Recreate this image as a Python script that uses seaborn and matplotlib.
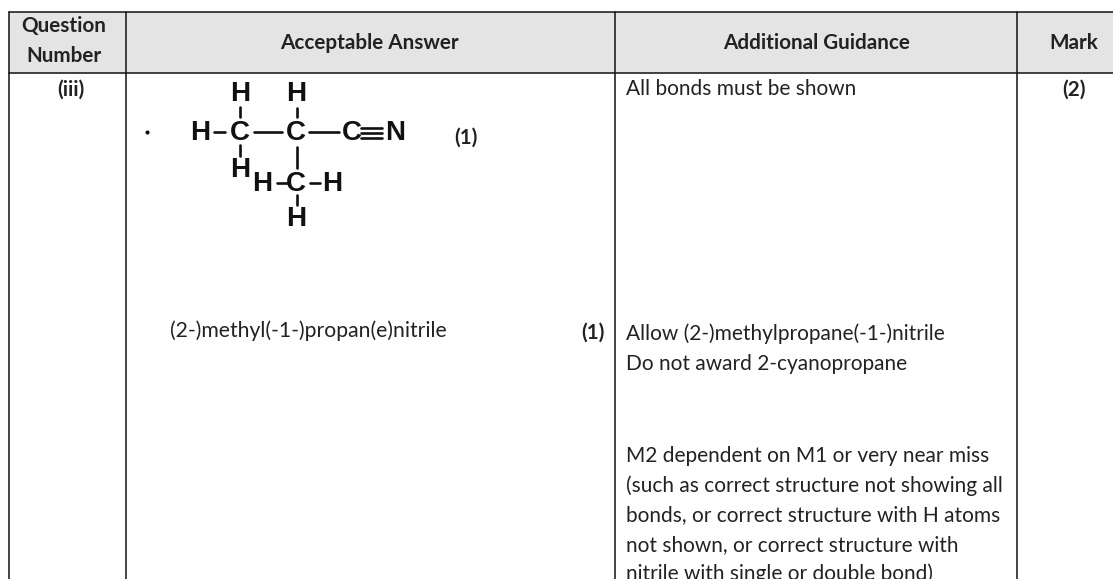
import pandas as pd
import matplotlib
matplotlib.use("Agg")
import matplotlib.pyplot as plt
import seaborn as sns

# Table text
header_labels = ["Question", "Number", "Acceptable Answer", "Additional Guidance", "Mark"]
bold_cells = ["(iii)", "(1)", "(1)", "(2)"]
answer_text = ["(2-)methyl(-1-)propan(e)nitrile"]
guidance_lines = [
    "All bonds must be shown",
    "Allow (2-)methylpropane(-1-)nitrile",
    "Do not award 2-cyanopropane",
    "M2 dependent on M1 or very near miss",
    "(such as correct structure not showing all",
    "bonds, or correct structure with H atoms",
    "not shown, or correct structure with",
    "nitrile with single or double bond)",
]
atom_labels = ["H", "H", "H", "C", "C", "C", "N", "H", "H", "C", "H", "H"]

# Where things go, in pixels of the 1113x579 page
header_xy = [(64, 26), (64, 56), (369, 43), (817, 43), (1074, 43)]
bold_xy = [(71, 90), (466, 138), (593, 333), (1074, 90)]
answer_xy = [(170, 331)]
guidance_xy = [(626, 89), (626, 334), (626, 364), (626, 456), (626, 486), (626, 515), (626, 545), (626, 574)]
atom_xy = [(240, 94), (296, 94), (200, 133), (240, 133), (296, 133), (352, 133), (395, 133),
           (240, 170), (262, 184), (296, 184), (332, 184), (296, 219)]

rule_x = [[9, 1113], [9, 1113], [9, 9], [126, 126], [615, 615], [1017, 1017]]
rule_y = [[12, 12], [73, 73], [12, 579], [12, 579], [12, 579], [12, 579]]
bond_x = [[214, 225], [254, 282], [309, 339], [240, 240], [240, 240], [297, 297],
          [297, 297], [277, 287], [310, 320], [297, 297],
          [361, 382], [361, 382], [361, 382]]
bond_y = [[132, 132], [132, 132], [132, 132], [107, 117], [145, 156], [108, 117],
          [147, 168], [183, 183], [183, 183], [195, 205],
          [128, 128], [133, 133], [138, 138]]


def segments(xs, ys):
    rows = []
    for i, (x_pair, y_pair) in enumerate(zip(xs, ys)):
        for x, y in zip(x_pair, y_pair):
            rows.append({"seg": i, "x": x, "y": y})
    return pd.DataFrame(rows)


sns.set_theme(style="white")
plt.rcParams["font.family"] = ["Lato", "DejaVu Sans"]
fig = plt.figure(figsize=(11.13, 5.79), dpi=100)
ax = fig.add_axes([0, 0, 1, 1])

ax.fill_between([9, 1113], 12, 73, color="#e4e4e4", lw=0, zorder=0)
sns.lineplot(data=segments(rule_x, rule_y), x="x", y="y", units="seg", estimator=None,
             sort=False, color="#111111", linewidth=1.1, ax=ax)
sns.lineplot(data=segments(bond_x, bond_y), x="x", y="y", units="seg", estimator=None,
             sort=False, color="#111111", linewidth=1.9, ax=ax)
sns.scatterplot(x=[147], y=[132], color="#111111", s=9, linewidth=0, ax=ax)

for label, (x, y) in zip(header_labels, header_xy):
    ax.text(x, y, label, ha="center", va="center", fontsize=14.9, fontweight="bold", color="#222222")
for label, (x, y) in zip(bold_cells, bold_xy):
    ax.text(x, y, label, ha="center", va="center", fontsize=14.9, fontweight="bold", color="#222222")
for label, (x, y) in zip(answer_text, answer_xy):
    ax.text(x, y, label, ha="left", va="center", fontsize=15.2, color="#222222")
for label, (x, y) in zip(guidance_lines, guidance_xy):
    ax.text(x, y, label, ha="left", va="center", fontsize=15, color="#222222")
for label, (x, y) in zip(atom_labels, atom_xy):
    ax.text(x, y, label, ha="center", va="center", fontsize=20, fontweight="bold", color="#111111",
            family="Liberation Sans")

ax.set_xlim(0, 1113)
ax.set_ylim(579, 0)
ax.set_axis_off()

fig.savefig("out.png", dpi=100)
